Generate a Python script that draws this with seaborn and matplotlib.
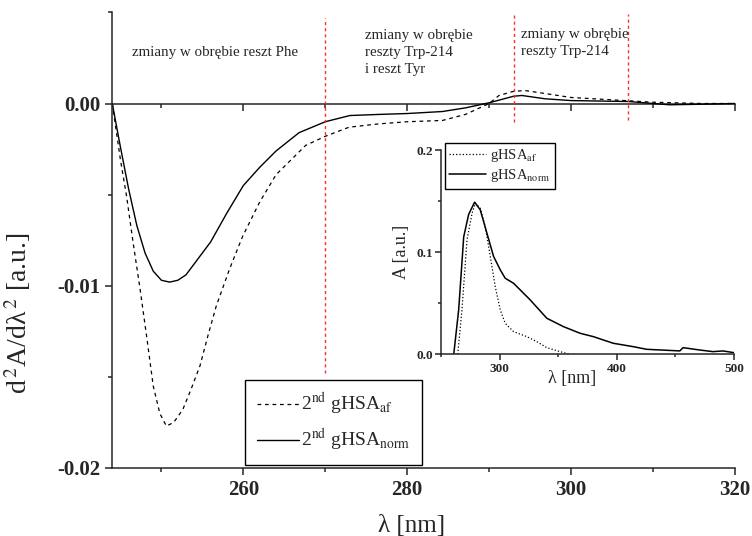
import numpy as np
import pandas as pd
import matplotlib
matplotlib.use("Agg")
from matplotlib import pyplot as plt
from matplotlib.ticker import MultipleLocator, FormatStrFormatter
import seaborn as sns

# second derivative spectra (main panel)
wl_af = [244.0, 245.0, 245.75, 246.5, 247.4, 248.2, 249.0, 249.8, 250.6, 251.5,
         252.6, 253.6, 254.7, 255.7, 256.7, 258.3, 259.9, 262.0, 264.0, 267.6,
         270.0, 272.9, 276.5, 280.0, 284.3, 287.1, 290.0, 291.2, 293.0, 294.4,
         296.8, 300.0, 307.0, 310.0, 316.0, 320.0]
d2_af = [0.0, -0.0031, -0.0051, -0.0075, -0.0102, -0.0128, -0.0155, -0.0170, -0.0177, -0.0175,
         -0.0168, -0.0157, -0.0144, -0.0127, -0.0111, -0.0091, -0.0073, -0.0054, -0.0039, -0.0023,
         -0.0018, -0.0013, -0.00112, -0.0010, -0.00093, -0.0006, 0.0, 0.00044, 0.00067, 0.00071,
         0.00055, 0.00033, 0.00015, 0.00007, 0.0, 0.0]

wl_norm = [244.0, 245.0, 246.0, 247.0, 248.0, 249.0, 250.0, 251.0, 252.0, 253.0,
           254.5, 256.0, 258.0, 260.0, 262.0, 264.0, 266.8, 270.0, 273.0, 276.5,
           280.0, 284.3, 287.1, 290.0, 293.0, 294.0, 296.8, 300.0, 307.0, 310.0,
           312.0, 316.0, 320.0]
d2_norm = [0.0, -0.0024, -0.0047, -0.0067, -0.0082, -0.0092, -0.0097, -0.0098, -0.0097, -0.0094,
           -0.0085, -0.0076, -0.0060, -0.0045, -0.0035, -0.0026, -0.0016, -0.0010, -0.00066, -0.0006,
           -0.00055, -0.00044, -0.00024, 0.00004, 0.0004, 0.00044, 0.00026, 0.00016, 0.00011, 0.0,
           -0.00007, -0.00004, 0.0]

# absorption spectra (inset)
ins_wl_af = [264.3, 267.9, 272.2, 276.5, 279.3, 283.5, 287.8, 292.1, 296.3, 300.6,
             304.8, 311.9, 323.3, 331.8, 340.3, 351.6, 360.1]
ins_a_af = [0.0, 0.0435, 0.112, 0.138, 0.148, 0.143, 0.125, 0.0958, 0.0663, 0.0435,
            0.0304, 0.0222, 0.0173, 0.0124, 0.0065, 0.0026, 0.0]

ins_wl_norm = [260.9, 265.1, 269.4, 273.6, 278.7, 283.5, 289.2, 294.9, 300.6, 304.8,
               311.9, 326.1, 340.3, 354.5, 368.7, 380.0, 397.0, 414.0, 425.4, 453.8,
               456.6, 470.8, 482.1, 490.6, 500.0]
ins_a_norm = [0.0, 0.0435, 0.115, 0.137, 0.149, 0.1415, 0.1186, 0.0958, 0.0827, 0.0745,
              0.0696, 0.0533, 0.0353, 0.0271, 0.0206, 0.0173, 0.0108, 0.0075, 0.0049, 0.0033,
              0.0065, 0.0042, 0.0026, 0.0033, 0.0016]

# region borders (red dashed lines): x, y from, y to
border_x = [270, 293, 307]
border_ylo = [-0.0148, -0.00104, -0.00088]
border_yhi = [0.0047, 0.0049, 0.0049]

region_texts = ["zmiany w obrębie reszt Phe",
                "zmiany w obrębie\nreszty Trp-214\ni reszt Tyr",
                "zmiany w obrębie\nreszty Trp-214"]
region_x = [246.4, 274.8, 293.9]
region_y = [0.00279, 0.00279, 0.00331]

sns.set_theme(style="ticks")
plt.rcParams['font.family'] = ['Liberation Serif', 'DejaVu Serif']
plt.rcParams['mathtext.fontset'] = 'stix'
plt.rcParams['axes.unicode_minus'] = False
plt.rcParams['axes.linewidth'] = 1.1

fig = plt.figure(figsize=(7.52, 5.36), dpi=100)
ax = fig.add_axes([0.1493, 0.1269, 0.828, 0.850])

main_af = pd.DataFrame({'wl': wl_af, 'd2': d2_af})
main_norm = pd.DataFrame({'wl': wl_norm, 'd2': d2_norm})
sns.lineplot(data=main_af, x='wl', y='d2', ax=ax, color='black', lw=0.9,
             dashes=(3, 3), label=r"2$^{\rm nd}$ gHSA$_{\rm af}$")
sns.lineplot(data=main_norm, x='wl', y='d2', ax=ax, color='black', lw=1.0,
             label=r"2$^{\rm nd}$ gHSA$_{\rm norm}$")
for i in range(len(border_x)):
    ax.plot([border_x[i], border_x[i]], [border_ylo[i], border_yhi[i]],
            color='#ff2a2a', lw=1.0, dashes=(2.2, 2.2))

for txt, tx, ty in zip(region_texts, region_x, region_y):
    ax.text(tx, ty, txt, fontsize=10.8, va='center', ha='left', linespacing=1.4)

ax.set_xlim(244, 320)
ax.set_ylim(-0.02, 0.005)
for s in ['top', 'right']:
    ax.spines[s].set_visible(False)
ax.xaxis.set_major_locator(MultipleLocator(20))
ax.xaxis.set_minor_locator(MultipleLocator(10))
ax.yaxis.set_major_locator(MultipleLocator(0.01))
ax.yaxis.set_minor_locator(MultipleLocator(0.005))
ax.yaxis.set_major_formatter(FormatStrFormatter('%.2f'))
ax.tick_params(which='major', direction='out', length=5, width=1.1, labelsize=15)
ax.tick_params(which='minor', direction='out', length=3, width=1.1)
for lab in ax.get_xticklabels() + ax.get_yticklabels():
    lab.set_fontweight('bold')

# x axis line at zero with downward ticks
zero = ax.secondary_xaxis(0.8)
zero.xaxis.set_major_locator(MultipleLocator(20))
zero.xaxis.set_minor_locator(MultipleLocator(10))
zero.tick_params(which='major', direction='in', length=5, width=1.1, labeltop=False)
zero.tick_params(which='minor', direction='in', length=3, width=1.1)
zero.spines['top'].set_linewidth(1.1)

ax.set_xlabel("λ [nm]", fontsize=18)
ax.set_ylabel(r"d$^{\,2}$A/dλ$^{\,2}$ [a.u.]", fontsize=20)
ax.xaxis.set_label_coords(0.48, -0.103)
ax.yaxis.set_label_coords(-0.128, 0.34)

leg = ax.legend(loc='lower left', bbox_to_anchor=(245 / 752, 1 - 465 / 536),
                bbox_transform=fig.transFigure, borderaxespad=0, fontsize=14,
                fancybox=False, framealpha=1, edgecolor='black', handlelength=2.2,
                handletextpad=0.1, borderpad=0.6, labelspacing=0.5)
leg.get_frame().set_linewidth(1.0)

# inset with absorption spectra
ins = fig.add_axes([0.5864, 0.339, 0.3896, 0.381])
ins_af = pd.DataFrame({'wl': ins_wl_af, 'A': ins_a_af})
ins_norm = pd.DataFrame({'wl': ins_wl_norm, 'A': ins_a_norm})
sns.lineplot(data=ins_af, x='wl', y='A', ax=ins, color='black', lw=0.9,
             linestyle=':', label=r"gHSA$_{\rm af}$")
sns.lineplot(data=ins_norm, x='wl', y='A', ax=ins, color='black', lw=1.1,
             label=r"gHSA$_{\rm norm}$")
ins.set_xlim(250, 500)
ins.set_ylim(0, 0.2)
for s in ['top', 'right']:
    ins.spines[s].set_visible(False)
ins.patch.set_alpha(0)
ins.xaxis.set_major_locator(MultipleLocator(100))
ins.xaxis.set_minor_locator(MultipleLocator(50))
ins.yaxis.set_major_locator(MultipleLocator(0.1))
ins.yaxis.set_minor_locator(MultipleLocator(0.05))
ins.yaxis.set_major_formatter(FormatStrFormatter('%.1f'))
ins.tick_params(which='major', direction='out', length=4, width=1.1, labelsize=9.5, pad=2)
ins.tick_params(which='minor', direction='out', length=2.5, width=1.1)
for lab in ins.get_xticklabels() + ins.get_yticklabels():
    lab.set_fontweight('bold')
ins.set_xlabel("λ [nm]", fontsize=13, labelpad=1)
ins.xaxis.set_label_coords(0.447, -0.075)
ins.set_ylabel("A [a.u.]", fontsize=13, labelpad=4)
ileg = ins.legend(loc='upper left', bbox_to_anchor=(445 / 752, 1 - 143 / 536),
                  bbox_transform=fig.transFigure, borderaxespad=0, fontsize=10.5,
                  fancybox=False, framealpha=1, edgecolor='black', handlelength=2.5,
                  handletextpad=0.3, borderpad=0.3, labelspacing=0.2)
ileg.get_frame().set_linewidth(1.0)

fig.savefig("out.png", dpi=100)
